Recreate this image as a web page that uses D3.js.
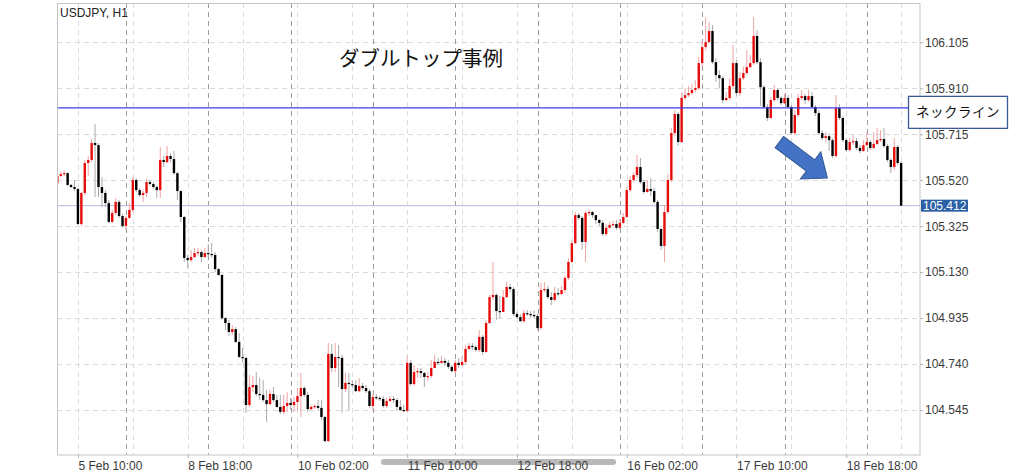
<!DOCTYPE html>
<html><head><meta charset="utf-8">
<script src="https://cdn.jsdelivr.net/npm/d3@7"></script>
<style>html,body{margin:0;padding:0;background:#fff;} svg{display:block}</style>
</head><body>
<svg id="chart" width="1024" height="474"></svg>
<script>
const symbolLabel = "USDJPY, H1";
const titleText = "ダブルトップ事例";
const firstOpen = 105.508;
const closes = [
105.538,105.546,105.550,105.500,105.491,105.483,105.334,105.466,105.593,105.606,
105.678,105.669,105.491,105.466,105.423,105.343,105.381,105.428,105.368,105.326,
105.360,105.394,105.521,105.478,105.457,105.466,105.512,105.504,105.491,105.478,
105.606,105.597,105.623,105.610,105.550,105.474,105.364,105.190,105.181,105.194,
105.211,105.215,105.194,105.211,105.207,105.203,105.143,105.118,104.935,104.914,
104.876,104.888,104.834,104.770,104.766,104.566,104.642,104.651,104.613,104.609,
104.587,104.570,104.613,104.587,104.558,104.537,104.562,104.575,104.566,104.579,
104.604,104.638,104.609,104.549,104.558,104.562,104.554,104.515,104.413,104.783,
104.723,104.770,104.766,104.634,104.660,104.655,104.651,104.625,104.647,104.638,
104.625,104.562,104.600,104.596,104.592,104.562,104.583,104.592,104.587,104.558,
104.545,104.541,104.745,104.655,104.706,104.710,104.702,104.685,104.689,104.723,
104.749,104.745,104.753,104.745,104.728,104.710,104.745,104.736,104.749,104.804,
104.817,104.812,104.800,104.855,104.791,104.914,105.024,105.033,104.965,104.961,
105.024,105.067,105.058,104.952,104.939,104.922,104.956,104.952,104.948,104.944,
104.893,105.054,105.058,105.024,105.012,105.041,105.037,105.054,105.105,105.173,
105.253,105.372,105.360,105.258,105.381,105.385,105.372,105.351,105.339,105.292,
105.318,105.330,105.334,105.318,105.339,105.364,105.478,105.521,105.542,105.576,
105.512,105.470,105.483,105.474,105.428,105.313,105.241,105.385,105.521,105.720,
105.801,105.682,105.869,105.881,105.890,105.903,105.911,106.017,106.085,106.106,
106.153,106.021,105.966,105.953,105.860,105.869,105.920,106.017,105.890,105.953,
105.975,106.000,106.017,106.132,106.021,105.915,105.831,105.784,105.860,105.903,
105.869,105.847,105.869,105.831,105.720,105.797,105.869,105.877,105.860,105.877,
105.831,105.805,105.720,105.699,105.707,105.690,105.623,105.826,105.784,105.690,
105.648,105.682,105.686,105.657,105.644,105.669,105.682,105.657,105.674,105.690,
105.695,105.665,105.606,105.576,105.661,105.593,105.412];
const highs = [
105.542,105.555,105.563,105.555,105.504,105.521,105.487,105.470,105.606,105.623,
105.695,105.758,105.678,105.533,105.478,105.436,105.394,105.444,105.436,105.377,
105.368,105.423,105.533,105.529,105.487,105.478,105.525,105.521,105.512,105.500,
105.661,105.623,105.665,105.635,105.644,105.555,105.478,105.368,105.203,105.224,
105.232,105.232,105.224,105.232,105.249,105.253,105.215,105.147,105.122,104.939,
104.927,104.905,104.897,104.871,104.808,104.770,104.694,104.689,104.706,104.681,
104.672,104.630,104.630,104.642,104.609,104.609,104.609,104.621,104.596,104.600,
104.638,104.702,104.647,104.621,104.566,104.570,104.587,104.587,104.520,104.829,
104.825,104.829,104.821,104.778,104.702,104.702,104.672,104.672,104.681,104.660,
104.651,104.634,104.613,104.613,104.604,104.604,104.596,104.604,104.604,104.596,
104.587,104.566,104.774,104.757,104.736,104.723,104.723,104.706,104.706,104.757,
104.778,104.766,104.774,104.766,104.757,104.736,104.757,104.766,104.774,104.821,
104.829,104.829,104.821,104.884,104.863,104.927,105.033,105.173,105.041,105.029,
105.054,105.088,105.080,105.067,104.961,104.952,104.969,104.969,104.965,104.969,
104.952,105.084,105.088,105.071,105.046,105.067,105.063,105.071,105.114,105.190,
105.266,105.385,105.381,105.368,105.390,105.394,105.390,105.368,105.356,105.351,
105.334,105.343,105.347,105.351,105.356,105.381,105.491,105.538,105.555,105.627,
105.614,105.521,105.521,105.529,105.487,105.436,105.318,105.415,105.546,105.741,
105.818,105.809,105.894,105.911,105.920,105.928,105.945,106.043,106.115,106.212,
106.191,106.178,106.038,105.987,105.962,105.894,105.953,106.094,106.030,105.979,
106.004,106.072,106.051,106.212,106.157,106.038,105.924,105.843,105.873,105.924,
105.911,105.877,105.886,105.881,105.839,105.818,105.886,105.903,105.886,105.903,
105.894,105.839,105.818,105.733,105.724,105.720,105.699,105.881,105.843,105.792,
105.699,105.699,105.712,105.699,105.669,105.690,105.724,105.690,105.724,105.741,
105.733,105.741,105.674,105.614,105.699,105.669,105.601];
const lows = [
105.504,105.533,105.538,105.495,105.487,105.474,105.330,105.326,105.457,105.538,
105.597,105.449,105.449,105.406,105.406,105.339,105.339,105.372,105.360,105.318,
105.309,105.356,105.385,105.470,105.449,105.428,105.449,105.495,105.483,105.444,
105.444,105.576,105.593,105.597,105.542,105.436,105.343,105.173,105.147,105.173,
105.190,105.198,105.173,105.190,105.194,105.190,105.130,105.113,104.927,104.884,
104.859,104.863,104.829,104.766,104.745,104.532,104.558,104.621,104.604,104.587,
104.579,104.494,104.566,104.579,104.554,104.528,104.528,104.537,104.545,104.537,
104.545,104.515,104.600,104.537,104.545,104.549,104.545,104.503,104.409,104.409,
104.706,104.706,104.642,104.532,104.621,104.545,104.638,104.621,104.621,104.630,
104.617,104.554,104.545,104.587,104.583,104.554,104.554,104.579,104.575,104.541,
104.541,104.537,104.537,104.647,104.647,104.681,104.681,104.642,104.668,104.681,
104.723,104.736,104.740,104.732,104.719,104.706,104.706,104.723,104.732,104.740,
104.800,104.800,104.791,104.791,104.778,104.787,104.910,105.012,104.927,104.935,
104.961,105.020,105.046,104.944,104.935,104.918,104.914,104.944,104.935,104.935,
104.884,104.884,105.046,105.016,104.990,105.007,105.029,105.033,105.041,105.097,
105.169,105.249,105.351,105.224,105.173,105.368,105.360,105.334,105.326,105.283,
105.283,105.318,105.322,105.309,105.309,105.334,105.360,105.470,105.512,105.529,
105.504,105.461,105.466,105.453,105.419,105.300,105.224,105.173,105.377,105.512,
105.707,105.665,105.678,105.860,105.873,105.881,105.894,105.903,106.004,106.072,
106.106,106.013,105.937,105.911,105.847,105.856,105.860,105.911,105.877,105.877,
105.945,105.966,105.996,106.009,106.013,105.835,105.826,105.771,105.780,105.852,
105.860,105.839,105.843,105.826,105.712,105.712,105.788,105.860,105.843,105.852,
105.826,105.792,105.712,105.690,105.682,105.644,105.614,105.614,105.775,105.682,
105.640,105.644,105.669,105.648,105.635,105.640,105.665,105.648,105.652,105.669,
105.682,105.657,105.597,105.550,105.563,105.584,105.410];

const yTickValues = [104.545, 104.740, 104.935, 105.130, 105.325, 105.520, 105.715, 105.910, 106.105];
const xTickBars = [6, 38, 70, 102, 134, 166, 198, 230];
const xTickLabels = ["5 Feb 10:00", "8 Feb 18:00", "10 Feb 02:00", "11 Feb 10:00", "12 Feb 18:00", "16 Feb 02:00", "17 Feb 10:00", "18 Feb 18:00"];
const minorGridBars = [6, 22, 38, 54, 70, 86, 102, 118, 134, 150, 166, 182, 198, 214, 230, 246];
const dayStartBars = [20, 44, 68, 92, 116, 140, 164, 188, 212, 236];
const necklinePrice = 105.827;
const necklineLabel = "ネックライン";
const lastPrice = 105.412;
const arrowFrom = [210.5, 105.682];
const arrowTo = [224.5, 105.529];

const svg = d3.select("#chart");
const L = 57, R = 920, T = 3, B = 455;
const x = d3.scaleLinear().domain([-0.1, 251.5]).range([L, R]);
const y = d3.scaleLinear().domain([104.354, 106.272]).range([B, T]);
const axisFont = "'Liberation Sans', Arial, Helvetica, sans-serif";
const jpFont = "'Noto Sans CJK JP', 'Noto Sans', sans-serif";

// scrollbar (behind labels)
svg.append("rect").attr("x", 381).attr("y", 459).attr("width", 235).attr("height", 6)
  .attr("rx", 3).attr("fill", "#b8b8b8");

// horizontal grid
svg.append("g").selectAll("line").data(yTickValues).join("line")
  .attr("x1", L).attr("x2", R)
  .attr("y1", d => Math.round(y(d)) + 0.5).attr("y2", d => Math.round(y(d)) + 0.5)
  .attr("stroke", "#dadada").attr("stroke-dasharray", "5,4");

// vertical grid
svg.append("g").selectAll("line").data(minorGridBars).join("line")
  .attr("x1", d => Math.round(x(d)) + 0.5).attr("x2", d => Math.round(x(d)) + 0.5)
  .attr("y1", T).attr("y2", B)
  .attr("stroke", "#dcdcdc").attr("stroke-dasharray", "5,4");
svg.append("g").selectAll("line").data(dayStartBars).join("line")
  .attr("x1", d => Math.round(x(d)) + 0.5).attr("x2", d => Math.round(x(d)) + 0.5)
  .attr("y1", T).attr("y2", B)
  .attr("stroke", "#9c9c9c").attr("stroke-dasharray", "5,4");

// clip
svg.append("clipPath").attr("id", "plotclip").append("rect")
  .attr("x", L).attr("y", T).attr("width", R - L).attr("height", B - T);

// last price line
svg.append("line").attr("x1", L).attr("x2", R)
  .attr("y1", y(lastPrice)).attr("y2", y(lastPrice))
  .attr("stroke", "#b3bbe0").attr("stroke-width", 1);

// candles
const bars = closes.map((c, i) => {
  const o = i === 0 ? firstOpen : closes[i - 1];
  return { i, o, c, h: Math.max(highs[i], o, c), l: Math.min(lows[i], o, c) };
});
const cg = svg.append("g").attr("clip-path", "url(#plotclip)");
cg.selectAll("line.wick").data(bars).join("line").attr("class", "wick")
  .attr("x1", d => x(d.i)).attr("x2", d => x(d.i))
  .attr("y1", d => y(d.h)).attr("y2", d => y(d.l))
  .attr("stroke", d => d.c >= d.o ? "#f1a3a3" : "#ababab").attr("stroke-width", 1);
cg.selectAll("rect.body").data(bars).join("rect").attr("class", "body")
  .attr("x", d => x(d.i) - 1.2).attr("width", 2.4)
  .attr("y", d => Math.min(y(d.o), y(d.c)))
  .attr("height", d => Math.max(1.2, Math.abs(y(d.o) - y(d.c))))
  .attr("fill", d => d.c >= d.o ? "#e60c0c" : "#000");

// neckline
svg.append("line").attr("x1", L).attr("x2", 908)
  .attr("y1", y(necklinePrice)).attr("y2", y(necklinePrice))
  .attr("stroke", "#3d3df2").attr("stroke-width", 1.3);

// frame
svg.append("rect").attr("x", L + 0.5).attr("y", T + 0.5).attr("width", R - L - 0.5).attr("height", B - T - 0.5)
  .attr("fill", "none").attr("stroke", "#c4c4c4");

// right axis
const ay = svg.append("g").attr("transform", `translate(${R},0)`)
  .call(d3.axisRight(y).tickValues(yTickValues).tickFormat(d3.format(".3f")).tickSize(3).tickPadding(2));
ay.select(".domain").remove();
ay.selectAll("line").attr("stroke", "#b0b0b0");
ay.selectAll("text").attr("font-family", axisFont).attr("font-size", 12).attr("fill", "#3a3a3a");

// bottom axis
const ax = svg.append("g").attr("transform", `translate(0,${B})`)
  .call(d3.axisBottom(x).tickValues(xTickBars).tickFormat((d, i) => xTickLabels[i]).tickSize(3).tickPadding(3));
ax.select(".domain").remove();
ax.selectAll("line").attr("stroke", "#b0b0b0");
ax.selectAll("text").attr("text-anchor", "start").attr("x", 0)
  .attr("font-family", axisFont).attr("font-size", 12).attr("fill", "#3a3a3a");

// last price tag
svg.append("rect").attr("x", R + 1).attr("y", y(lastPrice) - 6).attr("width", 47).attr("height", 12)
  .attr("fill", "#2b5fa6");
svg.append("text").attr("x", R + 3).attr("y", y(lastPrice) + 4.5)
  .attr("font-family", axisFont).attr("font-size", 12).attr("fill", "#fff").text(d3.format(".3f")(lastPrice));

// neckline label box
const ny = y(necklinePrice);
svg.append("rect").attr("x", 908.5).attr("y", ny - 11.5).attr("width", 99).attr("height", 32)
  .attr("fill", "#fff").attr("stroke", "#3a5b9a").attr("stroke-width", 1.3);
svg.append("text").attr("x", 958).attr("y", ny + 9.5).attr("text-anchor", "middle")
  .attr("font-family", jpFont).attr("font-size", 13.5).attr("letter-spacing", 0.5).attr("fill", "#111")
  .text(necklineLabel);

// symbol label
svg.append("text").attr("x", 60).attr("y", 17)
  .attr("font-family", axisFont).attr("font-size", 12).attr("fill", "#222").text(symbolLabel);

// title
svg.append("text").attr("x", 339).attr("y", 66)
  .attr("font-family", jpFont).attr("font-size", 20.5).attr("fill", "#111").text(titleText);

// arrow annotation
const sx = x(arrowFrom[0]), sy = y(arrowFrom[1]), tx = x(arrowTo[0]), ty = y(arrowTo[1]);
const len = Math.hypot(tx - sx, ty - sy), ang = Math.atan2(ty - sy, tx - sx) * 180 / Math.PI;
const hl = 21, sw = 7, hw = 17;
const pts = [[0, -sw], [len - hl, -sw], [len - hl, -hw], [len, 0], [len - hl, hw], [len - hl, sw], [0, sw]];
svg.append("polygon").attr("points", pts.map(p => p.join(",")).join(" "))
  .attr("transform", `translate(${sx},${sy}) rotate(${ang})`)
  .attr("fill", "#4472c4").attr("stroke", "#2f5597").attr("stroke-width", 1);
</script>
</body></html>
